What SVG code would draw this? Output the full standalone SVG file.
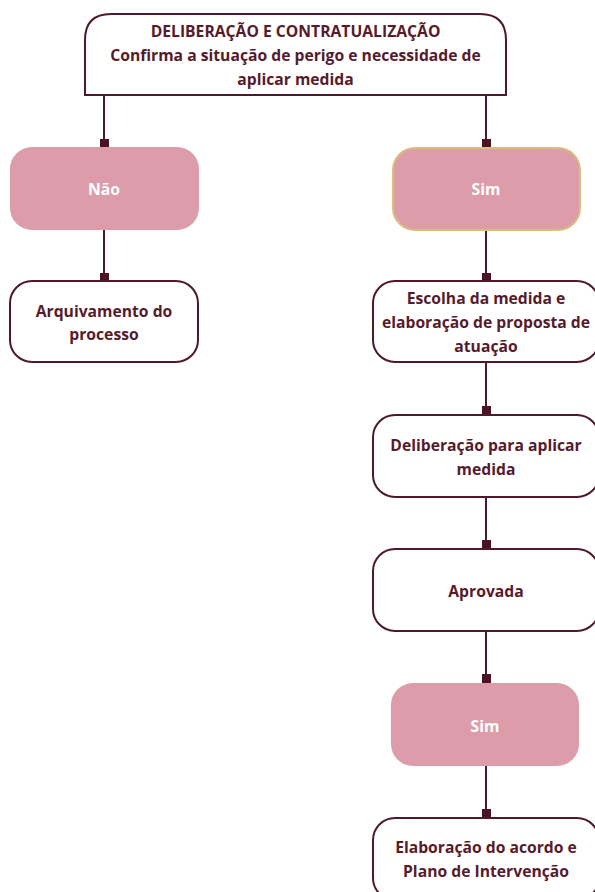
<svg xmlns="http://www.w3.org/2000/svg" width="595" height="892" viewBox="0 0 595 892">
<style>
.box{fill:#ffffff;stroke:#4e1a2a;stroke-width:2}
.pink{fill:#dc9ca9}
.gold{stroke:#d8bf80;stroke-width:2}
.t{font-family:"Open Sans",Lato,sans-serif;font-weight:bold;font-size:15.7px;fill:#561b2c;text-anchor:middle}
.w{fill:#ffffff}
.ln{stroke:#4e1a2a;stroke-width:2;fill:none}
.sq{fill:#4a1424}
</style>
<rect width="595" height="892" fill="#ffffff"/>
<g id="connectors">
<path class="ln" d="M104 96V147M104 230V281M486 96V148M486 230V281M486 362V415M486 497V549M486 631V683M486 766V818"/>
<rect class="sq" x="100" y="139" width="9" height="9"/>
<rect class="sq" x="100" y="273" width="9" height="9"/>
<rect class="sq" x="482" y="139" width="9" height="9"/>
<rect class="sq" x="482" y="273" width="9" height="9"/>
<rect class="sq" x="482" y="406" width="9" height="9"/>
<rect class="sq" x="482" y="540" width="9" height="9"/>
<rect class="sq" x="482" y="674" width="9" height="9"/>
<rect class="sq" x="482" y="809" width="9" height="9"/>
</g>
<g id="top">
<path class="box" d="M85 95V40Q85 14 111 14H480Q506 14 506 40V95Z"/>
<text class="t" x="295.5" y="37">DELIBERAÇÃO E CONTRATUALIZAÇÃO</text>
<text class="t" x="295.5" y="61">Confirma a situação de perigo e necessidade de</text>
<text class="t" x="295.5" y="85">aplicar medida</text>
</g>
<g id="nao">
<rect class="pink" x="10" y="147" width="189" height="83" rx="22"/>
<text class="t w" x="104" y="195">Não</text>
</g>
<g id="arquivamento">
<rect class="box" x="10" y="281" width="188" height="81" rx="22"/>
<text class="t" x="104" y="317">Arquivamento do</text>
<text class="t" x="104" y="340">processo</text>
</g>
<g id="sim1">
<rect class="pink gold" x="393" y="148" width="187" height="82" rx="22"/>
<text class="t w" x="486" y="195">Sim</text>
</g>
<g id="escolha">
<rect class="box" x="373" y="281" width="226" height="81" rx="22"/>
<text class="t" x="486" y="304">Escolha da medida e</text>
<text class="t" x="486" y="328">elaboração de proposta de</text>
<text class="t" x="486" y="352">atuação</text>
</g>
<g id="deliberacao">
<rect class="box" x="373" y="415" width="226" height="82" rx="22"/>
<text class="t" x="486" y="451">Deliberação para aplicar</text>
<text class="t" x="486" y="475">medida</text>
</g>
<g id="aprovada">
<rect class="box" x="373" y="549" width="226" height="82" rx="22"/>
<text class="t" x="486" y="597">Aprovada</text>
</g>
<g id="sim2">
<rect class="pink" x="391" y="683" width="188" height="83" rx="22"/>
<text class="t w" x="485" y="732">Sim</text>
</g>
<g id="elaboracao">
<rect class="box" x="373" y="818" width="226" height="82" rx="22"/>
<text class="t" x="486" y="853">Elaboração do acordo e</text>
<text class="t" x="486" y="877">Plano de Intervenção</text>
</g>
</svg>
